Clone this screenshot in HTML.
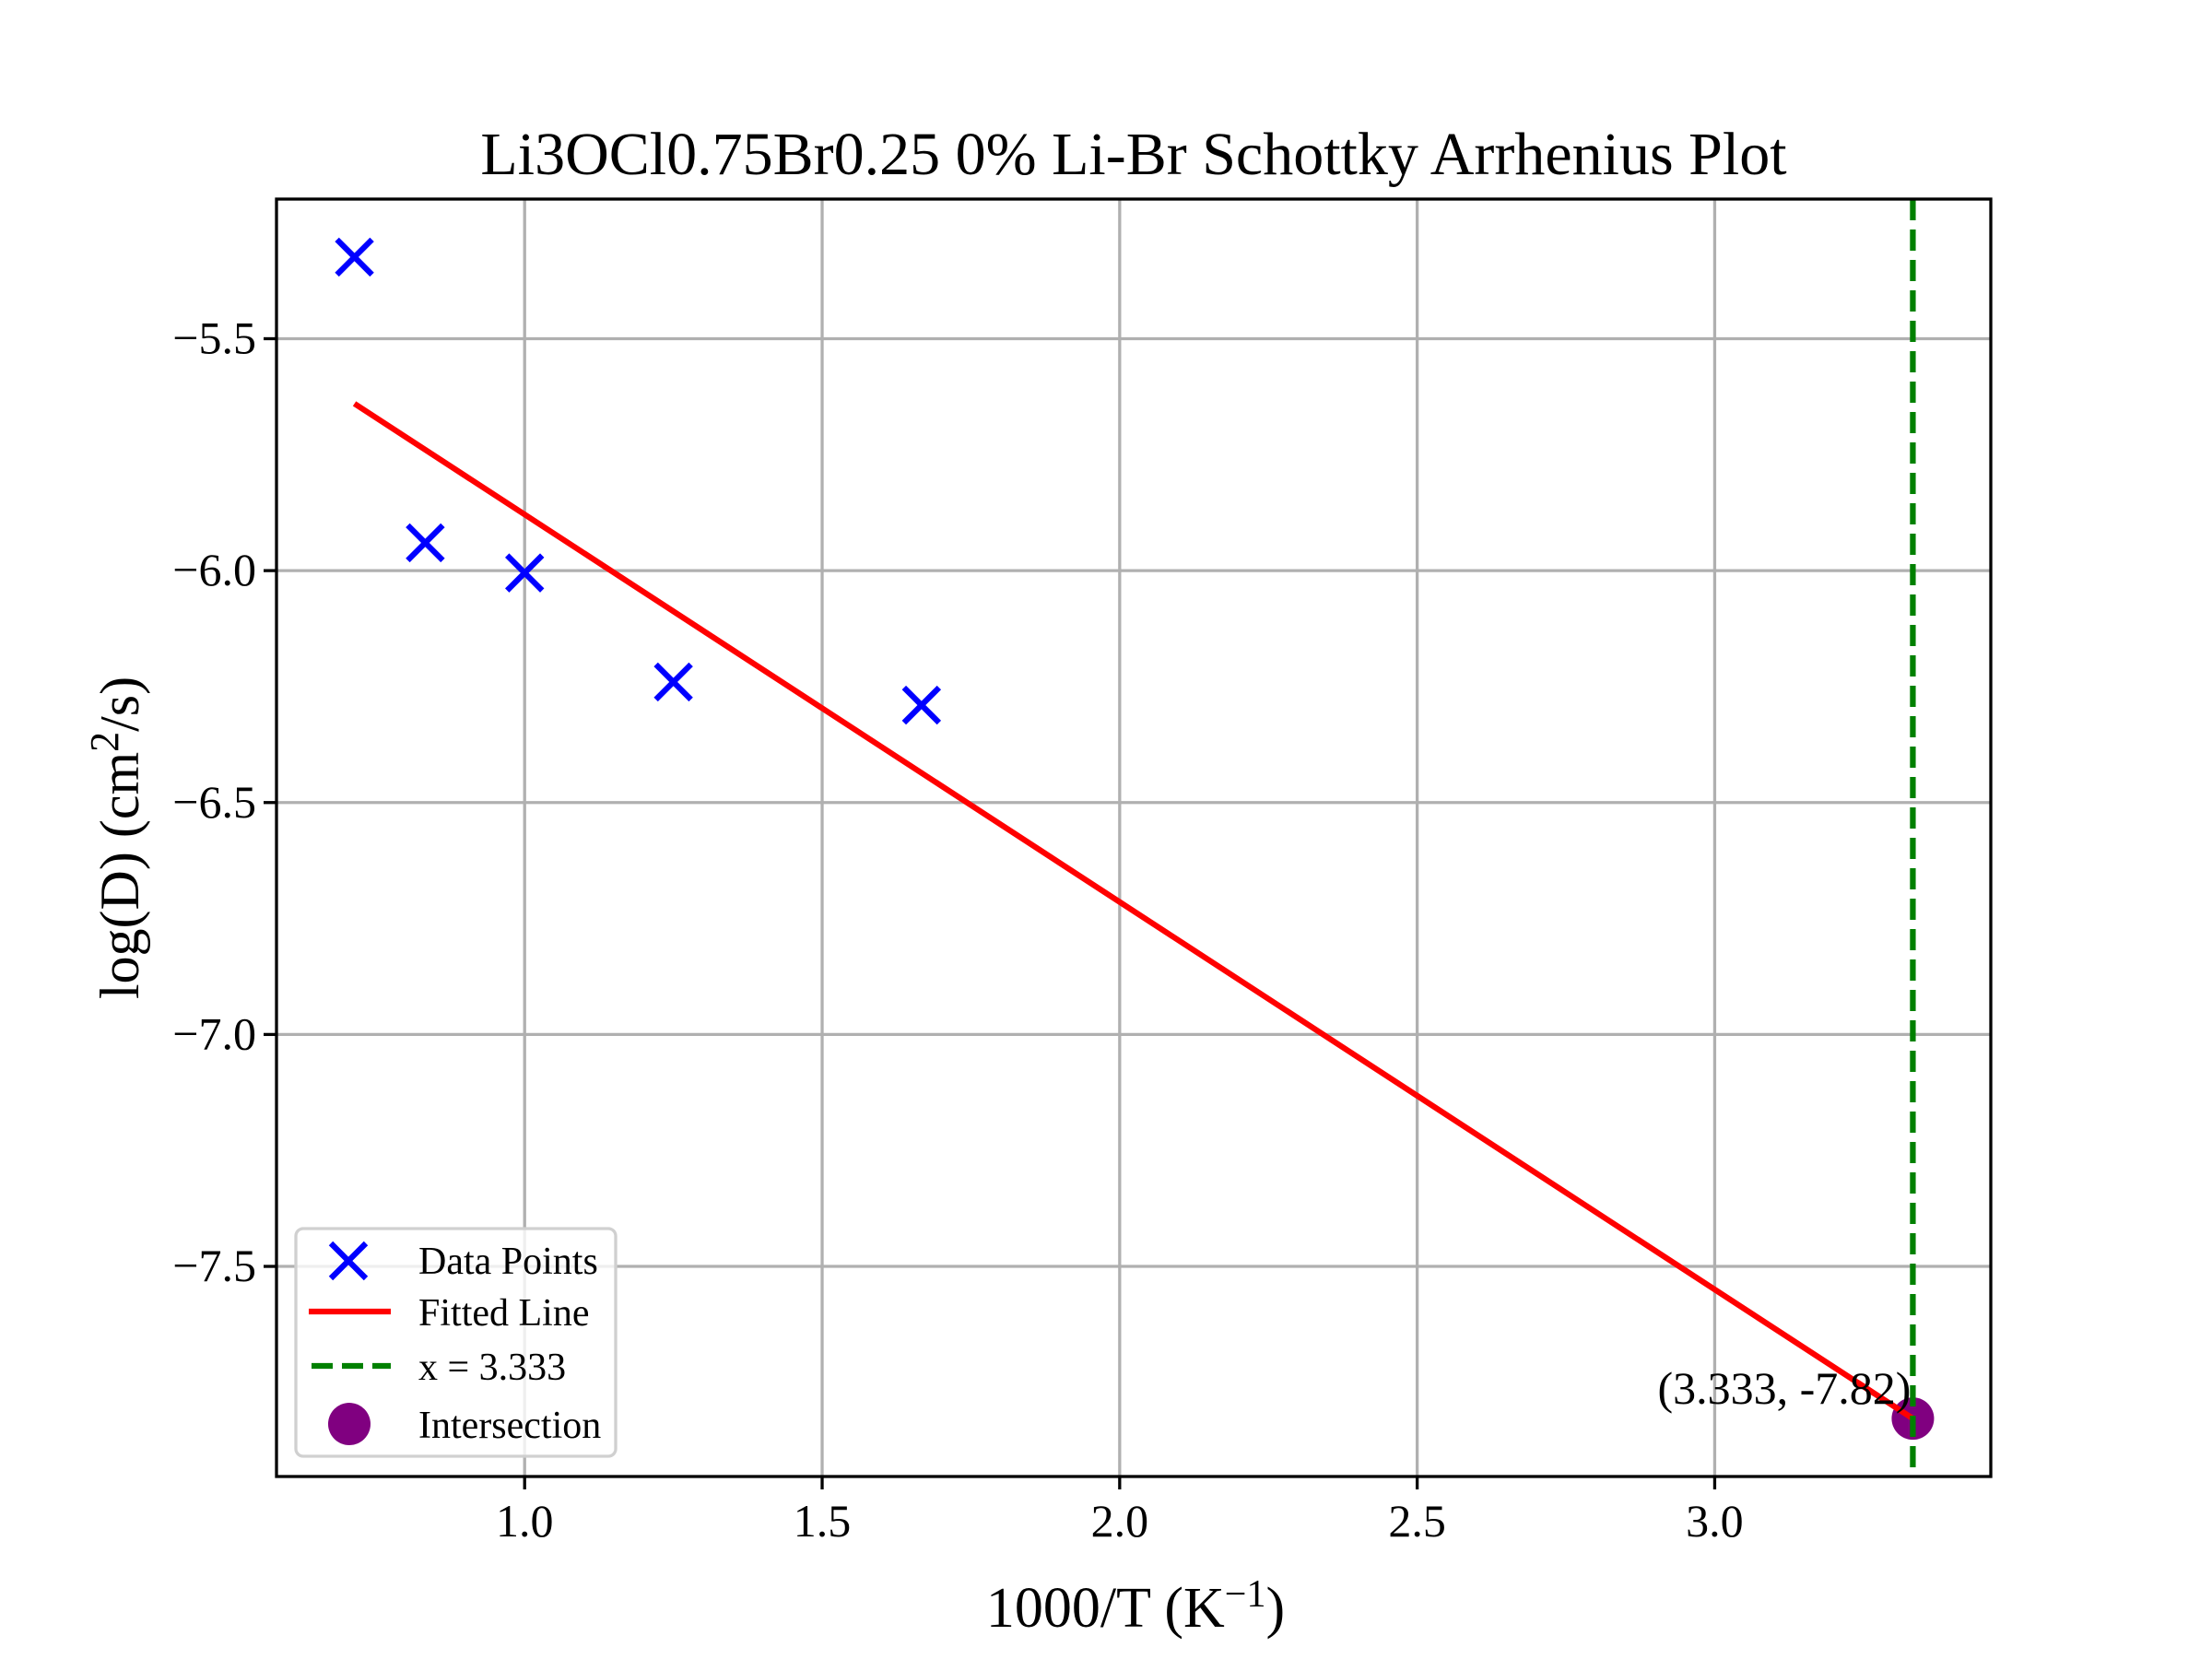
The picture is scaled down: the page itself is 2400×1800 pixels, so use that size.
<!DOCTYPE html>
<html><head><meta charset="utf-8"><style>body{margin:0;background:#fff}svg{display:block}text{font-family:"Liberation Serif",serif}</style></head>
<body>
<svg id="chart" width="2400" height="1800" viewBox="0 0 2400 1800">
<rect width="2400" height="1800" fill="#fff"/>
<g id="grid"></g><g id="marks"></g><g id="axes"></g>
</svg>
<script>
const pointX = [0.714, 0.833, 1.0, 1.25, 1.667];
const pointY = [-5.324, -5.94, -6.005, -6.24, -6.29];
const fitX = [0.714, 3.333];
const fitY = [-5.64, -7.828];
const vlineX = 3.333;
const interX = [3.333];
const interY = [-7.828];
const xTicks = [1.0, 1.5, 2.0, 2.5, 3.0];
const xTickLabels = ["1.0", "1.5", "2.0", "2.5", "3.0"];
const yTicks = [-5.5, -6.0, -6.5, -7.0, -7.5];
const yTickLabels = ["\u22125.5", "\u22126.0", "\u22126.5", "\u22127.0", "\u22127.5"];
const annotationText = "(3.333, -7.82)";

const L=300,R=2160,T=216,B=1602;
const xMin=0.583,xMax=3.464,yMin=-7.953,yMax=-5.199;
const sx=v=>L+(v-xMin)/(xMax-xMin)*(R-L);
const sy=v=>B-(v-yMin)/(yMax-yMin)*(B-T);
const NS="http://www.w3.org/2000/svg";
function mk(tag,attrs,parent,text){const e=document.createElementNS(NS,tag);for(const k in attrs)e.setAttribute(k,attrs[k]);if(text!==undefined)e.textContent=text;parent.appendChild(e);return e;}
const grid=document.getElementById('grid'),marks=document.getElementById('marks'),axes=document.getElementById('axes');

xTicks.forEach((v,i)=>{
 let g=mk('line',{x1:sx(v),x2:sx(v),y1:T,y2:B,stroke:'#b0b0b0','stroke-width':3.3},grid);
 
 
 let t=mk('line',{x1:sx(v),x2:sx(v),y1:B,y2:B+14,stroke:'#000','stroke-width':3.3},axes);
 
 
 let l=mk('text',{x:sx(v),y:1667,'font-size':50,'text-anchor':'middle'},axes,xTickLabels[i]);
 
 
});
yTicks.forEach((v,i)=>{
 let g=mk('line',{x1:L,x2:R,y1:sy(v),y2:sy(v),stroke:'#b0b0b0','stroke-width':3.3},grid);
 
 
 let t=mk('line',{x1:L-14,x2:L,y1:sy(v),y2:sy(v),stroke:'#000','stroke-width':3.3},axes);
 
 
 let l=mk('text',{x:L-22,y:sy(v)+16,'font-size':50,'text-anchor':'end'},axes,yTickLabels[i]);
 
 
});

let fit=mk('line',{x1:sx(fitX[0]),y1:sy(fitY[0]),x2:sx(fitX[1]),y2:sy(fitY[1]),stroke:'#ff0000','stroke-width':6.25},marks);



pointX.forEach((v,i)=>{
 const cx=sx(v),cy=sy(pointY[i]),s=19;
 let p=mk('path',{d:`M${cx-s},${cy-s}L${cx+s},${cy+s}M${cx-s},${cy+s}L${cx+s},${cy-s}`,stroke:'#0000ff','stroke-width':6.25,fill:'none'},marks);
 
 
});

interX.forEach((v,i)=>{
 let c=mk('circle',{cx:sx(v),cy:sy(interY[i]),r:23,fill:'#800080'},marks);
 
 
});
let fit2=mk('line',{x1:sx(fitX[1])-60,y1:sy(fitY[1])-60*(sy(fitY[0])-sy(fitY[1]))/(sx(fitX[0])-sx(fitX[1])),x2:sx(fitX[1]),y2:sy(fitY[1]),stroke:'#ff0000','stroke-width':6.25},marks);



let vl=mk('line',{x1:sx(vlineX),x2:sx(vlineX),y1:T,y2:B,stroke:'#008000','stroke-width':6.25,'stroke-dasharray':'23 10'},marks);



let an=mk('text',{x:sx(interX[0])-2,y:sy(interY[0])-16,'font-size':50,'text-anchor':'end'},marks,annotationText);



let fr=mk('rect',{x:L,y:T,width:R-L,height:B-T,fill:'none',stroke:'#000','stroke-width':3.3},axes);


</script>
<svg style="position:absolute;left:0;top:0" width="2400" height="1800">
<text x="1230" y="189" font-size="66" text-anchor="middle" font-family="Liberation Serif, serif">Li3OCl0.75Br0.25 0% Li-Br Schottky Arrhenius Plot</text>
<text x="1232" y="1765" font-size="62" text-anchor="middle" font-family="Liberation Serif, serif">1000/T (K<tspan dy="-22" font-size="42">−1</tspan><tspan dy="22">)</tspan></text>
<text transform="translate(150,909) rotate(-90)" font-size="60" text-anchor="middle" font-family="Liberation Serif, serif">log(D) (cm<tspan dy="-22" font-size="44">2</tspan><tspan dy="22">/s)</tspan></text>
<g>
<rect x="321" y="1333" width="347" height="247" rx="8" fill="#fff" fill-opacity="0.8" stroke="#d0d0d0" stroke-width="3.3"/>
<path d="M359,1349L397,1387M359,1387L397,1349" stroke="#0000ff" stroke-width="6.25"/>
<text x="454" y="1382" font-size="42" font-family="Liberation Serif, serif">Data Points</text>
<line x1="335" y1="1423" x2="424" y2="1423" stroke="#ff0000" stroke-width="6.25"/>
<text x="454" y="1438" font-size="42" font-family="Liberation Serif, serif">Fitted Line</text>
<line x1="338" y1="1482" x2="424" y2="1482" stroke="#008000" stroke-width="6.25" stroke-dasharray="23 10"/>
<text x="454" y="1497" font-size="42" font-family="Liberation Serif, serif">x = 3.333</text>
<circle cx="379" cy="1545" r="23" fill="#800080"/>
<text x="454" y="1560" font-size="42" font-family="Liberation Serif, serif">Intersection</text>
</g>
</svg>
</body></html>
